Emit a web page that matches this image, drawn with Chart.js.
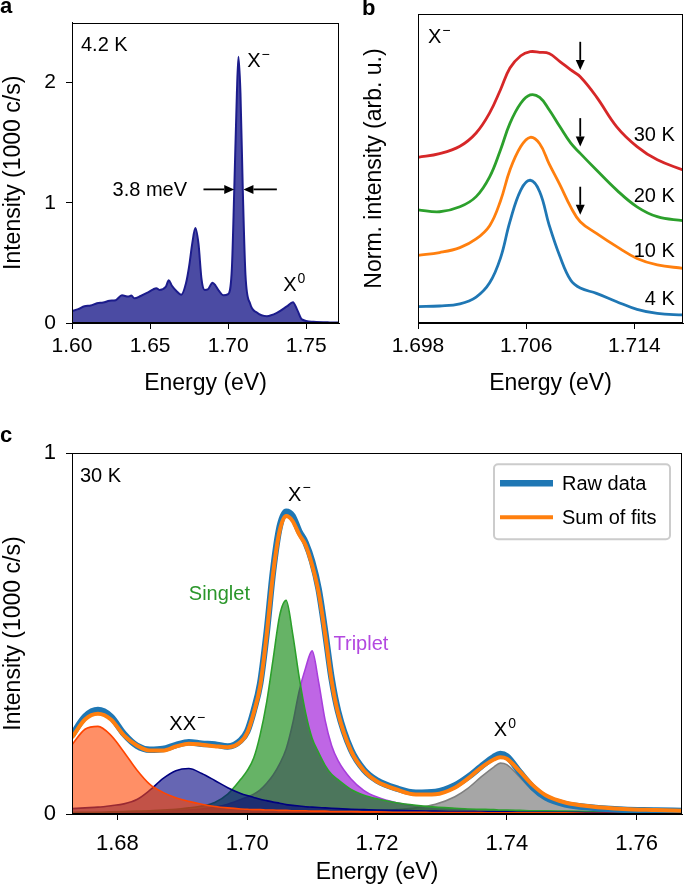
<!DOCTYPE html>
<html>
<head>
<meta charset="utf-8">
<script src="https://cdn.jsdelivr.net/npm/chart.js@4.4.1/dist/chart.umd.min.js"></script>
<style>
  body { margin: 0; background: #fff; width: 685px; height: 889px; position: relative; overflow: hidden; }
  canvas { position: absolute; }
  #ca { left: 0; top: 0; }
  #cb { left: 345px; top: 0; }
  #cc { left: 0; top: 430px; }
</style>
</head>
<body>
<canvas id="ca" width="345" height="400"></canvas>
<canvas id="cb" width="340" height="400"></canvas>
<canvas id="cc" width="685" height="459"></canvas>
<script>
// ---- panel a: PL spectrum at 4.2 K ----
const aEnergy = [
  1.600, 1.604, 1.608, 1.612, 1.616, 1.620, 1.624, 1.628, 1.632, 1.636,
  1.638, 1.640, 1.644, 1.648, 1.652, 1.654, 1.656, 1.660, 1.662, 1.664,
  1.667, 1.670, 1.673, 1.675, 1.677, 1.679, 1.681, 1.683, 1.685, 1.687,
  1.690, 1.692, 1.694, 1.697, 1.700, 1.7024, 1.7039, 1.7056, 1.7066, 1.7079,
  1.7094, 1.7111, 1.7141, 1.7184, 1.7248, 1.7312, 1.7376, 1.7415, 1.7444, 1.7473,
  1.7547, 1.7650, 1.7710
];
const aIntensity = [
  0.100, 0.115, 0.140, 0.145, 0.165, 0.170, 0.185, 0.190, 0.230, 0.220,
  0.228, 0.205, 0.225, 0.250, 0.280, 0.290, 0.275, 0.300, 0.355, 0.310,
  0.265, 0.235, 0.330, 0.470, 0.660, 0.790, 0.660, 0.360, 0.275, 0.280,
  0.335, 0.310, 0.270, 0.230, 0.240, 0.456, 1.100, 1.910, 2.215, 1.910,
  1.100, 0.400, 0.160, 0.087, 0.057, 0.084, 0.138, 0.173, 0.105, 0.030,
  0.010, 0.005, 0.004
];
const aTicksX = [1.60, 1.65, 1.70, 1.75];
const aTicksY = [0, 1, 2];

// ---- panel b: normalised X- line vs temperature (offset) ----
const bEnergy = [1.6980, 1.6996, 1.7011, 1.7023, 1.7033, 1.7041, 1.7048, 1.7056, 1.7063, 1.7070,
                 1.7077, 1.7085, 1.7093, 1.7100, 1.7112, 1.7127, 1.7142, 1.7157, 1.7176];
const bTemps = ['4 K', '10 K', '20 K', '30 K'];
const b4K  = [0.53, 0.55, 0.62, 0.84, 1.30, 2.10, 3.28, 4.30, 4.62, 4.25, 3.17, 2.15, 1.38, 1.13, 0.96, 0.69, 0.44, 0.31, 0.26];
const b10K = [2.19, 2.28, 2.44, 2.72, 3.15, 3.95, 4.95, 5.71, 6.01, 5.80, 5.15, 4.47, 3.75, 3.28, 2.90, 2.47, 2.09, 1.88, 1.77];
const b20K = [3.66, 3.60, 3.76, 4.09, 4.73, 5.60, 6.46, 7.11, 7.38, 7.30, 6.90, 6.35, 5.82, 5.49, 4.95, 4.30, 3.76, 3.44, 3.31];
const b30K = [5.36, 5.48, 5.72, 6.15, 6.80, 7.55, 8.25, 8.65, 8.78, 8.76, 8.72, 8.46, 8.19, 7.97, 7.32, 6.35, 5.71, 5.28, 4.95];
const bTicksX = [1.698, 1.706, 1.714];

// ---- panel c: 30 K spectrum and fitted peaks ----
const cEnergy = [
  1.673, 1.675, 1.677, 1.679, 1.681, 1.683, 1.685, 1.687, 1.689, 1.691,
  1.693, 1.695, 1.697, 1.699, 1.700, 1.701, 1.702, 1.703, 1.704, 1.705,
  1.706, 1.707, 1.708, 1.709, 1.710, 1.711, 1.712, 1.713, 1.714, 1.716,
  1.718, 1.720, 1.723, 1.726, 1.729, 1.732, 1.734, 1.736, 1.738, 1.739,
  1.740, 1.742, 1.744, 1.746, 1.749, 1.753, 1.758, 1.763, 1.767
];
const cRaw = [
  0.218, 0.270, 0.288, 0.270, 0.222, 0.189, 0.178, 0.180, 0.191, 0.199,
  0.195, 0.193, 0.187, 0.204, 0.229, 0.286, 0.362, 0.503, 0.676, 0.796,
  0.838, 0.826, 0.784, 0.752, 0.700, 0.624, 0.506, 0.376, 0.285, 0.178,
  0.122, 0.093, 0.071, 0.059, 0.061, 0.079, 0.102, 0.131, 0.158, 0.166,
  0.160, 0.116, 0.074, 0.046, 0.027, 0.018, 0.012, 0.010, 0.008
];
const cSum = [
  0.212, 0.262, 0.278, 0.262, 0.218, 0.190, 0.176, 0.176, 0.187, 0.195,
  0.192, 0.188, 0.185, 0.200, 0.225, 0.280, 0.355, 0.497, 0.668, 0.785,
  0.826, 0.812, 0.775, 0.745, 0.690, 0.615, 0.500, 0.370, 0.280, 0.175,
  0.120, 0.090, 0.068, 0.054, 0.055, 0.073, 0.098, 0.128, 0.151, 0.157,
  0.153, 0.118, 0.080, 0.052, 0.032, 0.021, 0.014, 0.011, 0.009
];
const cLowPeak = [
  0.192, 0.235, 0.243, 0.218, 0.172, 0.122, 0.082, 0.060, 0.045, 0.035,
  0.027, 0.021, 0.017, 0.014, 0.013, 0.012, 0.012, 0.011, 0.011, 0.010,
  0.010, 0.009, 0.009, 0.009, 0.008, 0.008, 0.008, 0.007, 0.007, 0.007,
  0.006, 0.006, 0.005, 0.005, 0.004, 0.004, 0.004, 0.004, 0.003, 0.003,
  0.003, 0.003, 0.003, 0.003, 0.003, 0.002, 0.002, 0.002, 0.002
];
const cXX = [
  0.015, 0.017, 0.019, 0.023, 0.028, 0.040, 0.066, 0.098, 0.120, 0.126,
  0.112, 0.093, 0.073, 0.057, 0.051, 0.046, 0.041, 0.037, 0.033, 0.030,
  0.026, 0.024, 0.022, 0.020, 0.019, 0.018, 0.017, 0.016, 0.015, 0.013,
  0.012, 0.011, 0.010, 0.009, 0.008, 0.007, 0.007, 0.006, 0.006, 0.006,
  0.006, 0.005, 0.005, 0.005, 0.005, 0.004, 0.004, 0.004, 0.003
];
const cSinglet = [
  0.004, 0.005, 0.005, 0.006, 0.007, 0.008, 0.009, 0.011, 0.013, 0.017,
  0.022, 0.032, 0.055, 0.096, 0.120, 0.155, 0.220, 0.310, 0.430, 0.550,
  0.592, 0.500, 0.380, 0.280, 0.210, 0.170, 0.135, 0.110, 0.095, 0.068,
  0.052, 0.042, 0.031, 0.024, 0.019, 0.016, 0.014, 0.013, 0.012, 0.011,
  0.011, 0.010, 0.009, 0.009, 0.008, 0.007, 0.006, 0.005, 0.005
];
const cTriplet = [
  0.003, 0.003, 0.004, 0.004, 0.005, 0.005, 0.006, 0.007, 0.009, 0.011,
  0.014, 0.019, 0.027, 0.040, 0.047, 0.055, 0.067, 0.085, 0.108, 0.139,
  0.180, 0.250, 0.340, 0.405, 0.452, 0.366, 0.260, 0.190, 0.148, 0.097,
  0.065, 0.047, 0.031, 0.022, 0.017, 0.013, 0.011, 0.010, 0.009, 0.008,
  0.008, 0.007, 0.007, 0.006, 0.006, 0.005, 0.004, 0.004, 0.003
];
const cX0 = [
  0.001, 0.001, 0.001, 0.001, 0.001, 0.001, 0.001, 0.002, 0.002, 0.002,
  0.002, 0.002, 0.002, 0.002, 0.003, 0.003, 0.003, 0.003, 0.003, 0.003,
  0.003, 0.003, 0.004, 0.004, 0.004, 0.004, 0.004, 0.005, 0.005, 0.006,
  0.007, 0.009, 0.012, 0.017, 0.027, 0.048, 0.071, 0.102, 0.130, 0.141,
  0.137, 0.102, 0.066, 0.045, 0.025, 0.015, 0.010, 0.007, 0.006
];
const cTicksX = [1.68, 1.70, 1.72, 1.74, 1.76];
const cTicksY = [0, 1];

const FONT = "'Liberation Sans', Arial, Helvetica, sans-serif";
Chart.defaults.font.family = FONT;
Chart.defaults.color = '#000';
Chart.defaults.animation = false;

function pts(xs, ys) { return xs.map((x, i) => ({ x: x, y: ys[i] })); }

function xAxis(min, max, ticks, dec, size, pad, h) {
  return {
    type: 'linear', min: min, max: max,
    afterBuildTicks: s => { s.ticks = ticks.map(v => ({ value: v })); },
    afterFit: s => { s.height = h; },
    ticks: { callback: v => v.toFixed(dec), font: { size: size }, padding: pad, maxRotation: 0, autoSkip: false },
    grid: { drawOnChartArea: false, color: '#000', tickColor: '#000', tickLength: 6 },
    border: { color: '#000', width: 1 },
    title: { display: true, text: 'Energy (eV)', font: { size: 23 }, padding: { top: 0, bottom: 3 } }
  };
}

function yAxis(min, max, ticks, size, w, label, titlePad) {
  return {
    min: min, max: max,
    afterBuildTicks: s => { s.ticks = ticks.map(v => ({ value: v })); },
    afterFit: s => { s.width = w; },
    ticks: { display: ticks.length > 0, font: { size: size }, padding: 10 },
    grid: { display: ticks.length > 0, drawOnChartArea: false, color: '#000', tickColor: '#000', tickLength: 6 },
    border: { display: true, color: '#000', width: 1 },
    title: { display: true, text: label, font: { size: 23 }, padding: { top: titlePad, bottom: 0 } }
  };
}

const frame = {
  id: 'frame',
  afterDraw(chart) {
    const { ctx, chartArea: a } = chart;
    ctx.save();
    ctx.strokeStyle = '#000';
    ctx.lineWidth = 1;
    ctx.strokeRect(Math.round(a.left) + 0.5, Math.round(a.top) + 0.5,
                   Math.round(a.right - a.left) - 1, Math.round(a.bottom - a.top) - 1);
    ctx.restore();
  }
};

function text(ctx, s, x, y, size, color, align, bold) {
  ctx.font = (bold ? 'bold ' : '') + size + 'px ' + FONT;
  ctx.fillStyle = color || '#000';
  ctx.textAlign = align || 'left';
  ctx.textBaseline = 'alphabetic';
  ctx.fillText(s, x, y);
}

function supText(ctx, base, sup, x, y, size) {
  text(ctx, base, x, y, size);
  const w = ctx.measureText(base).width;
  text(ctx, sup, x + w + 1, y - size * 0.42, Math.round(size * 0.7));
}

function arrow(ctx, x1, y1, x2, y2) {
  const ang = Math.atan2(y2 - y1, x2 - x1), L = 10, W = 4.5;
  const bx = x2 - L * Math.cos(ang), by = y2 - L * Math.sin(ang);
  ctx.save();
  ctx.strokeStyle = '#000'; ctx.fillStyle = '#000'; ctx.lineWidth = 1.8;
  ctx.beginPath(); ctx.moveTo(x1, y1); ctx.lineTo(bx, by); ctx.stroke();
  ctx.beginPath(); ctx.moveTo(x2, y2);
  ctx.lineTo(bx + W * Math.sin(ang), by - W * Math.cos(ang));
  ctx.lineTo(bx - W * Math.sin(ang), by + W * Math.cos(ang));
  ctx.closePath(); ctx.fill();
  ctx.restore();
}

const base = {
  responsive: false, maintainAspectRatio: false, devicePixelRatio: 1,
  plugins: { legend: { display: false }, tooltip: { enabled: false } },
  elements: { point: { radius: 0 }, line: { cubicInterpolationMode: 'monotone' } }
};

// panel a
new Chart(document.getElementById('ca'), {
  type: 'line',
  data: {
    datasets: [{
      data: pts(aEnergy, aIntensity),
      borderColor: '#1c1c8c', borderWidth: 2,
      backgroundColor: 'rgba(30,30,140,0.8)', fill: 'origin'
    }]
  },
  options: Object.assign({}, base, {
    layout: { padding: { top: 14, right: 6, left: 0, bottom: 0 }, autoPadding: false },
    scales: {
      x: xAxis(1.60, 1.771, aTicksX, 2, 21, 5, 77),
      y: yAxis(0, 2.5, aTicksY, 21, 72, 'Intensity (1000 c/s)', 0)
    }
  }),
  plugins: [frame, {
    id: 'notesA',
    afterDraw(chart) {
      const { ctx, chartArea: a, scales: { x, y } } = chart;
      ctx.save();
      text(ctx, 'a', 0, 13, 22, '#000', 'left', true);
      text(ctx, '4.2 K', a.left + 9, a.top + 28, 20);
      supText(ctx, 'X', '\u2212', x.getPixelForValue(1.7122), y.getPixelForValue(2.13), 20);
      supText(ctx, 'X', '0', x.getPixelForValue(1.7353), y.getPixelForValue(0.267), 20);
      text(ctx, '3.8 meV', x.getPixelForValue(1.6737), y.getPixelForValue(1.053), 20, '#000', 'right');
      const ay = y.getPixelForValue(1.112);
      arrow(ctx, x.getPixelForValue(1.6842), ay, x.getPixelForValue(1.7039), ay);
      arrow(ctx, x.getPixelForValue(1.7312), ay, x.getPixelForValue(1.7098), ay);
      ctx.restore();
    }
  }]
});

// panel b
const bColors = ['#1f77b4', '#ff7f0e', '#2ca02c', '#d62728'];
const bSeries = [b4K, b10K, b20K, b30K];
new Chart(document.getElementById('cb'), {
  type: 'line',
  data: {
    datasets: bSeries.map((s, i) => ({
      label: bTemps[i], data: pts(bEnergy, s),
      borderColor: bColors[i], borderWidth: 2.8, fill: false,
      cubicInterpolationMode: 'default', tension: 0.4
    }))
  },
  options: Object.assign({}, base, {
    layout: { padding: { top: 14, right: 2, left: 0, bottom: 0 }, autoPadding: false },
    scales: {
      x: xAxis(1.698, 1.7176, bTicksX, 3, 21, 5, 77),
      y: yAxis(0, 10, [], 21, 73, 'Norm. intensity (arb. u.)', 16)
    }
  }),
  plugins: [frame, {
    id: 'notesB',
    afterDraw(chart) {
      const { ctx, chartArea: a, scales: { x, y } } = chart;
      ctx.save();
      text(ctx, 'b', 17, 15, 22, '#000', 'left', true);
      supText(ctx, 'X', '\u2212', a.left + 10, a.top + 29, 20);
      const lx = x.getPixelForValue(1.7170);
      const labelY = [0.58, 2.12, 3.92, 5.88];
      bTemps.forEach((t, i) => text(ctx, t, lx, y.getPixelForValue(labelY[i]), 20, '#000', 'right'));
      const ax = x.getPixelForValue(1.7100);
      [[9.10, 8.19], [6.63, 5.71], [4.41, 3.50]].forEach(p =>
        arrow(ctx, ax, y.getPixelForValue(p[0]), ax, y.getPixelForValue(p[1])));
      ctx.restore();
    }
  }]
});

// panel c
const cFits = [
  { label: 'low', data: cLowPeak, line: 'rgb(255,69,0)', fill: 'rgba(255,69,0,0.6)' },
  { label: 'XX-', data: cXX, line: 'rgb(0,0,128)', fill: 'rgba(0,0,128,0.6)' },
  { label: 'Singlet', data: cSinglet, line: '#2ca02c', fill: 'rgba(0,128,0,0.6)' },
  { label: 'Triplet', data: cTriplet, line: '#a83fdc', fill: 'rgba(148,0,211,0.6)' },
  { label: 'X0', data: cX0, line: '#808080', fill: 'rgba(128,128,128,0.7)' }
];
new Chart(document.getElementById('cc'), {
  type: 'line',
  data: {
    datasets: [
      { label: 'Sum of fits', data: pts(cEnergy, cSum), borderColor: '#ff7f0e', borderWidth: 4, fill: false },
      { label: 'Raw data', data: pts(cEnergy, cRaw), borderColor: '#1f77b4', borderWidth: 6.5, fill: false }
    ].concat(cFits.map(f => ({
      label: f.label, data: pts(cEnergy, f.data),
      borderColor: f.line, borderWidth: 1.6, backgroundColor: f.fill, fill: 'origin'
    })))
  },
  options: Object.assign({}, base, {
    layout: { padding: { top: 14, right: 3, left: 0, bottom: 0 }, autoPadding: false },
    scales: {
      x: xAxis(1.673, 1.767, cTicksX, 2, 22, 11, 75),
      y: yAxis(0, 1, cTicksY, 22, 72, 'Intensity (1000 c/s)', 0)
    }
  }),
  plugins: [frame, {
    id: 'notesC',
    afterDraw(chart) {
      const { ctx, chartArea: a, scales: { x, y } } = chart;
      ctx.save();
      text(ctx, 'c', 0, 12, 22, '#000', 'left', true);
      text(ctx, '30 K', a.left + 8, a.top + 29, 20);
      supText(ctx, 'X', '\u2212', x.getPixelForValue(1.7063), y.getPixelForValue(0.868), 20);
      supText(ctx, 'XX', '\u2212', x.getPixelForValue(1.6880), y.getPixelForValue(0.232), 20);
      supText(ctx, 'X', '0', x.getPixelForValue(1.7380), y.getPixelForValue(0.216), 20);
      text(ctx, 'Singlet', x.getPixelForValue(1.6910), y.getPixelForValue(0.594), 20, '#2a962a');
      text(ctx, 'Triplet', x.getPixelForValue(1.7133), y.getPixelForValue(0.454), 20, '#b348e0');

      // legend box
      const ds = chart.data.datasets;
      const bx = a.right - 188, by = a.top + 11, bw = 176, bh = 75;
      ctx.fillStyle = 'rgba(255,255,255,0.85)';
      ctx.strokeStyle = '#cccccc'; ctx.lineWidth = 2;
      ctx.beginPath();
      ctx.roundRect(bx, by, bw, bh, 4);
      ctx.fill(); ctx.stroke();
      const rows = [{ d: ds[1], y: by + 19 }, { d: ds[0], y: by + 53 }];
      rows.forEach(r => {
        ctx.strokeStyle = r.d.borderColor; ctx.lineWidth = r.d.borderWidth;
        ctx.beginPath(); ctx.moveTo(bx + 6, r.y); ctx.lineTo(bx + 59, r.y); ctx.stroke();
        text(ctx, r.d.label, bx + 68, r.y + 7, 20);
      });
      ctx.restore();
    }
  }]
});
</script>
</body>
</html>
